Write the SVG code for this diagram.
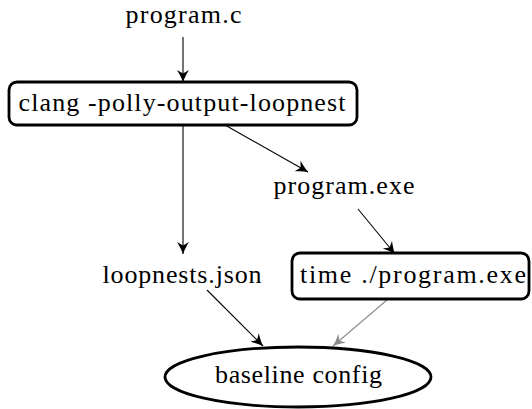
<svg xmlns="http://www.w3.org/2000/svg" width="532" height="409" viewBox="0 0 532 409">
<style>
text{font-size:26px;fill:#000;text-anchor:middle}
.box{fill:#fff;stroke:#000;stroke-width:2.8}
.edge{fill:none;stroke:#000;stroke-width:1.1}
.gray{stroke:#8c8c8c}
</style>
<defs>
<marker id="ah" markerUnits="userSpaceOnUse" markerWidth="16" markerHeight="16" viewBox="-14 -8 16 16" refX="0" refY="0" orient="auto">
<path d="M0,0 C-3.5,-1.2 -8,-3.5 -12,-6 L-8.5,0 L-12,6 C-8,3.5 -3.5,1.2 0,0 Z" fill="#000"/>
</marker>
<marker id="ahg" markerUnits="userSpaceOnUse" markerWidth="16" markerHeight="16" viewBox="-14 -8 16 16" refX="0" refY="0" orient="auto">
<path d="M0,0 C-3.5,-1.2 -8,-3.5 -12,-6 L-8.5,0 L-12,6 C-8,3.5 -3.5,1.2 0,0 Z" fill="#8c8c8c"/>
</marker>
</defs>
<g id="connectors">
<line class="edge" x1="183" y1="37" x2="183" y2="82" marker-end="url(#ah)"/>
<line class="edge" x1="183" y1="125" x2="183" y2="254" marker-end="url(#ah)"/>
<line class="edge" x1="225" y1="125" x2="308" y2="172" marker-end="url(#ah)"/>
<line class="edge" x1="358" y1="209" x2="395" y2="254" marker-end="url(#ah)"/>
<line class="edge" x1="207" y1="290" x2="263" y2="346" marker-end="url(#ah)"/>
<line class="edge gray" x1="387" y1="300" x2="333" y2="346" marker-end="url(#ahg)"/>
</g>
<g font-family="'Liberation Serif', 'DejaVu Serif', serif">
<g id="program_c">
<text x="183.5" y="23" textLength="116">program.c</text>
</g>
<g id="clang">
<rect class="box" x="9" y="82" width="348" height="43" rx="8"/>
<text x="182" y="111" textLength="327">clang -polly-output-loopnest</text>
</g>
<g id="program_exe">
<text x="344" y="194" textLength="141">program.exe</text>
</g>
<g id="loopnests_json">
<text x="182" y="283" textLength="159">loopnests.json</text>
</g>
<g id="time_program">
<rect class="box" x="292" y="253" width="237" height="46" rx="8"/>
<text x="413" y="283" textLength="226">time ./program.exe</text>
</g>
<g id="baseline_config">
<ellipse class="box" cx="298" cy="377" rx="133" ry="30"/>
<text x="298.5" y="383" textLength="167">baseline config</text>
</g>
</g>
</svg>
